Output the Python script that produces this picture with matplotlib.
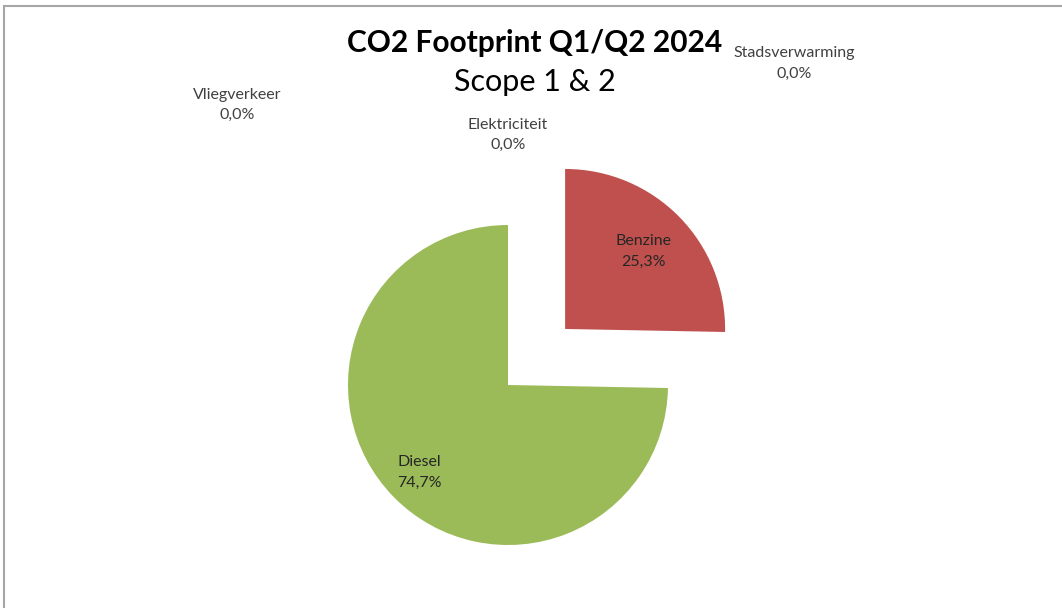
import numpy as np
import matplotlib.pyplot as plt
from matplotlib.patches import Rectangle

# Data
categories = ['Benzine', 'Diesel', 'Elektriciteit', 'Stadsverwarming', 'Vliegverkeer']
shares = [25.3, 74.7, 0.0, 0.0, 0.0]
colors = ['#C0504D', '#9BBB59', '#4F81BD', '#8064A2', '#4BACC6']
explode = [0.5, 0, 0, 0, 0]

# label radius (fraction of pie radius, from wedge tip) for visible slices
label_dist = [0.69, 0.78]
# manual label spots for the empty slices (data units, radius = 1)
zero_label_pos = {
    'Elektriciteit': (0.0, 1.5625),
    'Stadsverwarming': (1.79, 2.01),
    'Vliegverkeer': (-1.69, 1.75),
}

plt.rcParams['font.family'] = ['Lato', 'DejaVu Sans']

fig = plt.figure(figsize=(10.62, 6.08), dpi=100)
ax = fig.add_axes([0, 0, 1, 1])
ax.set_aspect('equal')
ax.axis('off')

wedges, _ = ax.pie(shares, colors=colors, explode=explode, startangle=90,
                   counterclock=False, radius=1.0, center=(0, 0),
                   wedgeprops=dict(linewidth=0))
ax.set_xlim(-508 / 160, (1062 - 508) / 160)
ax.set_ylim(-223 / 160, (608 - 223) / 160)

def fmt(v):
    return f'{v:.1f}%'.replace('.', ',')

for i, (w, name, val) in enumerate(zip(wedges, categories, shares)):
    if val > 0:
        mid = np.deg2rad((w.theta1 + w.theta2) / 2)
        cx, cy = w.center
        d = label_dist[i]
        ax.text(cx + d * np.cos(mid), cy + d * np.sin(mid), f'{name}\n{fmt(val)}',
                ha='center', va='center', fontsize=11.5, color='#262626',
                linespacing=1.6)
    else:
        x, y = zero_label_pos[name]
        ax.text(x, y, f'{name}\n{fmt(val)}', ha='center', va='center',
                fontsize=11.5, color='#404040', linespacing=1.6)

fig.text(535 / 1062, 1 - 43 / 608, 'CO2 Footprint Q1/Q2 2024', ha='center',
         va='center', fontsize=21.5, fontweight='bold', color='black')
fig.text(535 / 1062, 1 - 82 / 608, 'Scope 1 & 2', ha='center', va='center',
         fontsize=22, color='black')

# chart area border (only top and left visible in the crop)
fig.patches.append(Rectangle((4 / 1062, -0.1), 1.2, (608 - 6) / 608 + 0.1,
                             transform=fig.transFigure, fill=False,
                             edgecolor='#A6A6A6', linewidth=1.5))

fig.savefig('out.png', dpi=100)
